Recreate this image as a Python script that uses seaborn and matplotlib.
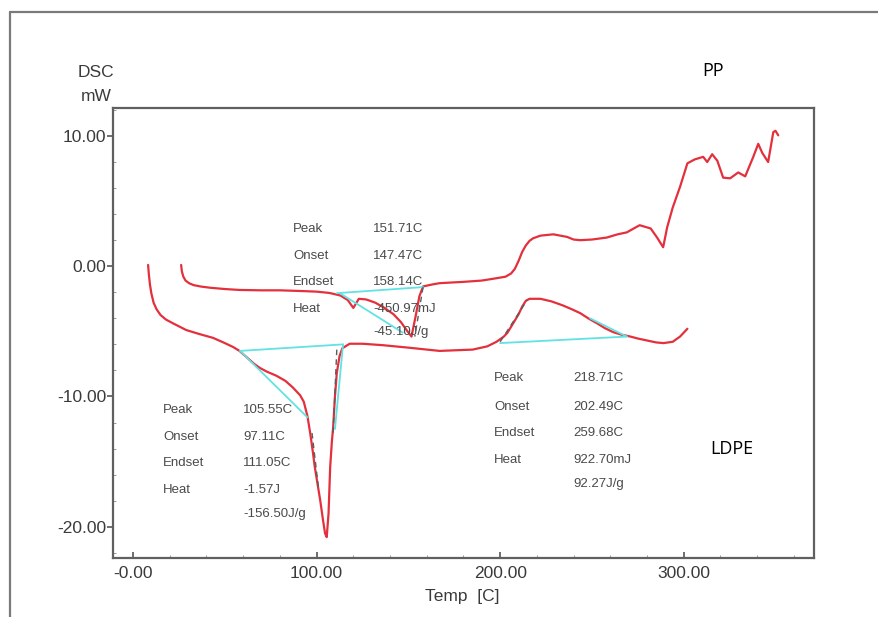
import numpy as np
import matplotlib
matplotlib.use("Agg")
import matplotlib.pyplot as plt
from matplotlib.ticker import MultipleLocator, FormatStrFormatter
from matplotlib.lines import Line2D
import seaborn as sns

# PP curve (upper trace)
pp_temp = [26.2, 26.6, 27.4, 28.6, 30.5, 33, 37, 42, 50, 58, 70, 80, 91, 100, 107, 113, 117,
           120, 123, 127, 132, 137, 142, 146, 149, 151.7, 154, 156, 158, 163, 167, 180, 190,
           198, 203, 206, 208, 210, 212, 214, 216, 218, 222, 229, 236.5, 240, 243.6, 250,
           258, 264, 269, 271, 276, 282, 285.5, 288.8, 291, 294, 298, 302, 306, 310.6,
           312.8, 315.5, 318.3, 321.5, 325.3, 329.7, 333.5, 337.9, 340.6, 342.8, 346,
           348.8, 350, 351.5]
pp_dsc = [0.1, -0.4, -0.8, -1.1, -1.3, -1.45, -1.56, -1.65, -1.75, -1.82, -1.85, -1.85,
          -1.9, -1.95, -2.05, -2.25, -2.6, -3.2, -2.5, -2.55, -2.8, -3.2, -3.7, -4.3, -4.9,
          -5.4, -3.8, -2.3, -1.55, -1.4, -1.3, -1.2, -1.1, -0.92, -0.8, -0.55, -0.2, 0.4,
          1.1, 1.6, 1.95, 2.15, 2.35, 2.45, 2.25, 2.05, 2.0, 2.05, 2.2, 2.45, 2.6, 2.76,
          3.15, 2.9, 2.2, 1.46, 3.0, 4.5, 6.1, 7.9, 8.2, 8.4, 8.0, 8.6, 8.1, 6.8, 6.75,
          7.2, 6.9, 8.4, 9.4, 8.7, 8.0, 10.3, 10.4, 10.05]

# LDPE curve (lower trace)
ldpe_temp = [8.2, 8.6, 9.2, 10, 11.2, 12.8, 15, 18, 22, 29, 36, 43.6, 50, 54.5, 58, 62,
             66, 69, 73, 78, 83, 87, 91, 93, 95, 96.5, 98, 99, 100.5, 102, 103.5, 104.6,
             105.5, 106.5, 107.4, 108.3, 109, 110, 111, 112.5, 114, 118, 125, 136, 150,
             167, 185, 193, 198, 202, 204, 207, 210, 212, 214, 216, 222, 228, 234, 239,
             243.6, 248, 253, 257, 261.6, 266, 271, 275, 280, 285, 289, 294, 298, 300, 302]
ldpe_dsc = [0.1, -0.6, -1.4, -2.1, -2.8, -3.3, -3.75, -4.1, -4.4, -4.9, -5.2, -5.5, -5.9,
            -6.2, -6.5, -7.0, -7.5, -7.8, -8.1, -8.4, -8.8, -9.3, -9.9, -10.4, -11.5,
            -12.8, -14.3, -15.4, -16.7, -18.0, -19.5, -20.5, -20.8, -19.0, -15.4, -13.5,
            -12.4, -10.0, -8.2, -6.9, -6.3, -5.95, -5.95, -6.06, -6.25, -6.5, -6.4, -6.15,
            -5.8, -5.4, -5.1, -4.4, -3.7, -3.1, -2.65, -2.5, -2.5, -2.7, -3.0, -3.3, -3.6,
            -4.0, -4.4, -4.75, -5.06, -5.25, -5.4, -5.55, -5.7, -5.85, -5.9, -5.8, -5.4,
            -5.1, -4.8]

# peak baselines / tangents drawn by the analysis software
cyan_segments = [
    ([58.3, 114.4], [-6.5, -6.0]),
    ([58.3, 95.0], [-6.5, -11.6]),
    ([114.4, 110.0], [-6.0, -12.5]),
    ([200, 269], [-5.9, -5.4]),
    ([249, 269], [-4.0, -5.4]),
    ([111, 158], [-2.07, -1.6]),
    ([113, 147], [-2.1, -5.1]),
]
dark_segments = [
    ([97.5, 101], [-12.8, -17.0]),
    ([111, 109], [-6.4, -12.8]),
    ([200, 214.7], [-5.8, -2.6]),
    ([158, 153.5], [-1.6, -5.4]),
]

row_names = ["Peak", "Onset", "Endset", "Heat"]
pp_values = ["151.71C", "147.47C", "158.14C", "-450.97mJ", "-45.10J/g"]
ldpe1_values = ["105.55C", "97.11C", "111.05C", "-1.57J", "-156.50J/g"]
ldpe2_values = ["218.71C", "202.49C", "259.68C", "922.70mJ", "92.27J/g"]

sns.set_style("ticks")
plt.rcParams["font.family"] = ["Liberation Sans", "DejaVu Sans"]

fig = plt.figure(figsize=(8.79, 6.17), dpi=100)
ax = fig.add_axes([0.1286, 0.0956, 0.7975, 0.7294])

red = "#e3303c"
sns.lineplot(x=pp_temp, y=pp_dsc, ax=ax, color=red, lw=1.6, sort=False, estimator=None)
sns.lineplot(x=ldpe_temp, y=ldpe_dsc, ax=ax, color=red, lw=1.6, sort=False, estimator=None)
for xs, ys in cyan_segments:
    ax.plot(xs, ys, color="#62e2e2", lw=1.3, zorder=3)
for xs, ys in dark_segments:
    ax.plot(xs, ys, color="#556060", lw=1.0, ls=(0, (4, 3)), zorder=4)

# annotation blocks (label column x, value column x, row y's)
txt = dict(fontsize=9.5, color="#4a4a4a", va="center", ha="left")
def block(xl, xv, ys, values):
    for name, y, v in zip(row_names, ys, values):
        ax.text(xl, y, name, **txt)
        ax.text(xv, y, v, **txt)
    ax.text(xv, ys[-1] - (ys[-2] - ys[-1]) * 0.85, values[-1], **txt)

block(87.2, 130.8, [2.84, 0.77, -1.23, -3.3], pp_values)
block(16.3, 60.0, [-11.05, -13.1, -15.1, -17.2], ldpe1_values)
block(196.7, 239.8, [-8.6, -10.8, -12.8, -14.9], ldpe2_values)

ax.set_xlim(-10.9, 371)
ax.set_ylim(-22.4, 12.15)
ax.xaxis.set_major_locator(MultipleLocator(100))
ax.xaxis.set_minor_locator(MultipleLocator(20))
ax.yaxis.set_major_locator(MultipleLocator(10))
ax.yaxis.set_minor_locator(MultipleLocator(2))
ax.yaxis.set_major_formatter(FormatStrFormatter("%.2f"))
ax.set_xticks(ax.get_xticks())
ax.set_xticklabels(["-0.00" if abs(t) < 1e-9 else "%.2f" % t for t in ax.get_xticks()])
ax.set_xlim(-10.9, 371)

ax.tick_params(axis="x", which="major", direction="in", length=4, width=1.2,
               color="#555555", labelsize=12.5, labelcolor="#3a3a3a", pad=6)
ax.tick_params(axis="x", which="minor", direction="in", length=2.5, color="#888888")
ax.tick_params(axis="y", which="major", direction="out", length=4, width=1.2,
               color="#555555", labelsize=12.5, labelcolor="#3a3a3a", pad=1)
ax.tick_params(axis="y", which="minor", direction="in", length=2.5, color="#888888")
for s in ax.spines.values():
    s.set_color("#606060")
    s.set_linewidth(1.6)
ax.set_xlabel("")
ax.set_ylabel("")

fig.text(0.109, 0.883, "DSC", fontsize=12.5, color="#3a3a3a", ha="center", va="center")
fig.text(0.109, 0.843, "mW", fontsize=12.5, color="#3a3a3a", ha="center", va="center")
fig.text(0.526, 0.034, "Temp  [C]", fontsize=12.5, color="#3a3a3a", ha="center", va="center")
fig.text(0.811, 0.885, "PP", fontsize=13, color="black", ha="center", va="center",
         family=["Open Sans", "DejaVu Sans"])
fig.text(0.833, 0.272, "LDPE", fontsize=13, color="black", ha="center", va="center",
         family=["Open Sans", "DejaVu Sans"])

# outer frame of the pasted screenshot
fig.add_artist(Line2D([0.0114, 1.0], [0.9806, 0.9806], color="#7a7a7a", lw=1.6))
fig.add_artist(Line2D([0.0114, 0.0114], [0.0, 0.9806], color="#7a7a7a", lw=1.6))

fig.savefig("out.png", dpi=100)
